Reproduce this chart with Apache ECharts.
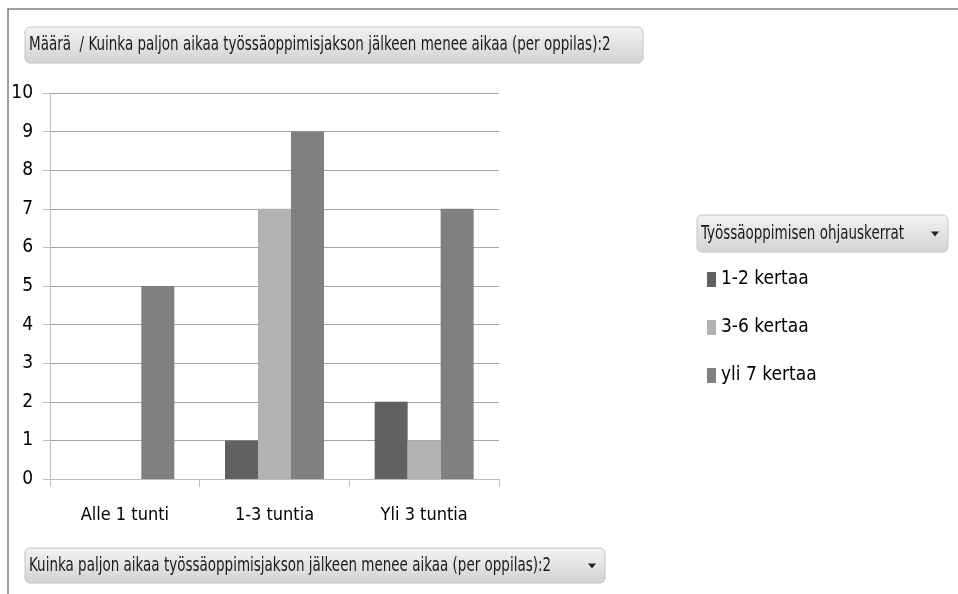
<!DOCTYPE html>
<html>
<head>
<meta charset="utf-8">
<script src="https://cdn.jsdelivr.net/npm/echarts@6/dist/echarts.min.js"></script>
<style>
  html, body { margin: 0; padding: 0; background: #fff; }
  #chart { width: 958px; height: 594px; }
</style>
</head>
<body>
<div id="chart"></div>
<script>
// Pivot chart: count of students by time spent after the work-placement period
var categories = ['Alle 1 tunti', '1-3 tuntia', 'Yli 3 tuntia'];
var seriesNames = ['1-2 kertaa', '3-6 kertaa', 'yli 7 kertaa'];
var values12 = [null, 1, 2];
var values36 = [null, 7, 1];
var valuesYli7 = [5, 9, 7];
var yTicks = { min: 0, max: 10, interval: 1 };

var valueTitle = 'Määrä  / Kuinka paljon aikaa työssäoppimisjakson jälkeen menee aikaa (per oppilas):2';
var legendTitle = 'Työssäoppimisen ohjauskerrat';
var axisFieldTitle = 'Kuinka paljon aikaa työssäoppimisjakson jälkeen menee aikaa (per oppilas):2';

var FONT = '"DejaVu Sans Condensed", "DejaVu Sans", sans-serif';
var colors = ['#616161', '#b2b2b2', '#808080'];

// Field button (grey rounded box) used by the pivot header/footer
function fieldButton(x, y, w, h, text, withArrow) {
  var children = [{
    type: 'rect',
    shape: { x: 0, y: 0, width: w, height: h, r: 5 },
    style: {
      fill: new echarts.graphic.LinearGradient(0, 0, 0, 1, [
        { offset: 0, color: '#f3f3f3' },
        { offset: 1, color: '#d2d2d2' }
      ]),
      stroke: '#c4c4c4', lineWidth: 1
    }
  }, {
    type: 'text',
    x: 4, y: h / 2,
    scaleY: 1.3,
    style: {
      text: text, fill: '#1a1a1a', font: '15px ' + FONT,
      verticalAlign: 'middle'
    }
  }];
  if (withArrow) {
    children.push({
      type: 'polygon',
      shape: { points: [[w - 17, h / 2 - 2], [w - 9, h / 2 - 2], [w - 13, h / 2 + 3]] },
      style: { fill: '#222' }
    });
  }
  return { type: 'group', x: x, y: y, children: children };
}

var chart = echarts.init(document.getElementById('chart'), null, { renderer: 'canvas' });

function makeSeries(name, data, color) {
  return {
    name: name, type: 'bar', data: data,
    barWidth: 33, barGap: '0%',
    itemStyle: { color: color },
    emphasis: { disabled: true }
  };
}

chart.setOption({
  animation: false,
  backgroundColor: '#ffffff',
  grid: { left: 50, top: 93, right: 459, bottom: 115 },
  legend: {
    orient: 'vertical',
    left: 702, top: 265,
    icon: 'rect', itemWidth: 9, itemHeight: 15, itemGap: 29,
    textStyle: { fontFamily: FONT, fontSize: 19, color: '#000' },
    data: seriesNames
  },
  xAxis: {
    type: 'category', data: categories,
    axisLine: { lineStyle: { color: '#bdbdbd', width: 1 } },
    axisTick: { show: true, length: 8, lineStyle: { color: '#bdbdbd' } },
    axisLabel: { fontFamily: FONT, fontSize: 18, color: '#000', margin: 27 }
  },
  yAxis: {
    type: 'value', min: yTicks.min, max: yTicks.max, interval: yTicks.interval,
    axisLine: { show: true, lineStyle: { color: '#bdbdbd', width: 1 } },
    axisTick: { show: true, length: 7, lineStyle: { color: '#bdbdbd' } },
    axisLabel: { fontFamily: FONT, fontSize: 19, color: '#000', margin: 17 },
    splitLine: { show: true, lineStyle: { color: '#a3a3a3', width: 1 } }
  },
  series: [
    makeSeries(seriesNames[0], values12, colors[0]),
    makeSeries(seriesNames[1], values36, colors[1]),
    makeSeries(seriesNames[2], valuesYli7, colors[2])
  ],
  graphic: [
    {
      type: 'polyline',
      shape: { points: [[8, 594], [8, 9], [958, 9]] },
      style: { stroke: '#808080', lineWidth: 1.5, fill: null }
    },
    fieldButton(25, 27, 618, 36, valueTitle, false),
    fieldButton(697, 215, 251, 37, legendTitle, true),
    fieldButton(25, 548, 580, 35, axisFieldTitle, true)
  ]
});
</script>
</body>
</html>
